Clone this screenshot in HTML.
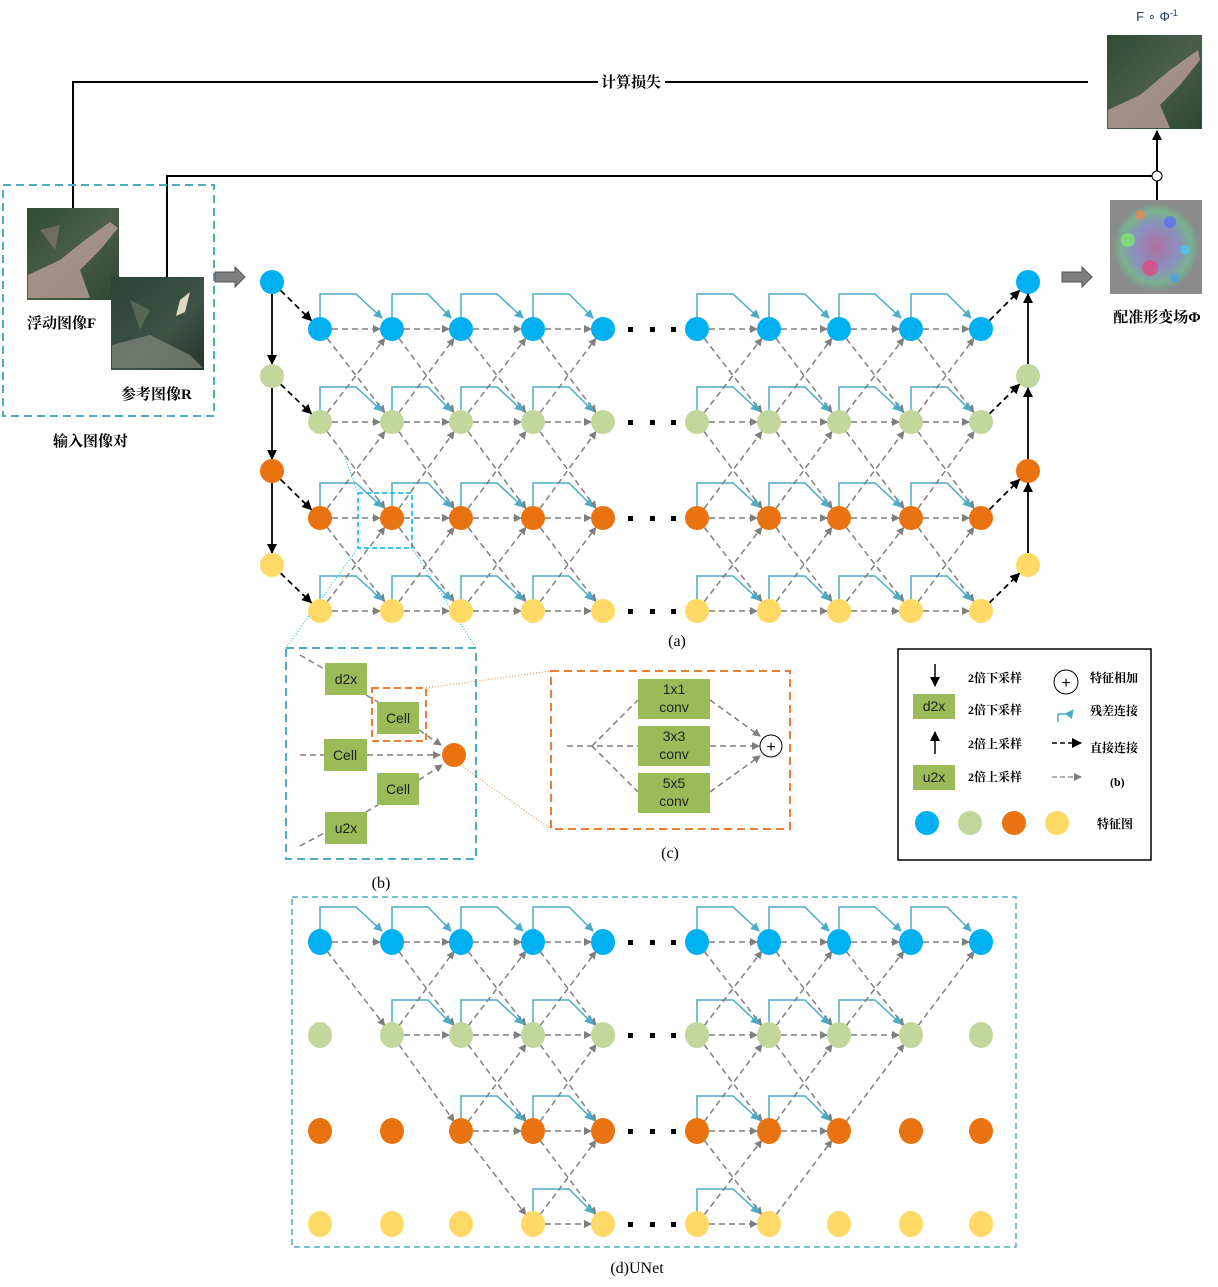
<!DOCTYPE html>
<html><head><meta charset="utf-8">
<style>
html,body{margin:0;padding:0;background:#fff;}
svg{display:block;}
.cn{font-family:"Liberation Serif","Noto Serif CJK SC",serif;font-weight:bold;fill:#000;}
.lt{font-family:"Liberation Sans",sans-serif;fill:#222;}
.sr{font-family:"Liberation Serif","Noto Serif CJK SC",serif;fill:#000;}
</style></head>
<body>
<svg id="s" width="1218" height="1287" viewBox="0 0 1218 1287" xmlns="http://www.w3.org/2000/svg">
<defs>
<marker id="ag" markerWidth="8" markerHeight="8" refX="7" refY="4" orient="auto" markerUnits="userSpaceOnUse"><path d="M0,0 L8,4 L0,8 z" fill="#7f7f7f"/></marker>
<marker id="ab" markerWidth="10" markerHeight="10" refX="9" refY="5" orient="auto" markerUnits="userSpaceOnUse"><path d="M0,0 L10,5 L0,10 z" fill="#000"/></marker>
<marker id="ac" markerWidth="9" markerHeight="9" refX="8" refY="4.5" orient="auto" markerUnits="userSpaceOnUse"><path d="M0,0 L9,4.5 L0,9 z" fill="#4bacc6"/></marker>
<linearGradient id="img1" x1="0" y1="0" x2="1" y2="1"><stop offset="0" stop-color="#2f4a35"/><stop offset="0.5" stop-color="#4a5e48"/><stop offset="1" stop-color="#2d4532"/></linearGradient>
<linearGradient id="img2" x1="0" y1="0" x2="1" y2="1"><stop offset="0" stop-color="#2c4236"/><stop offset="0.6" stop-color="#3e5246"/><stop offset="1" stop-color="#24352b"/></linearGradient>
<radialGradient id="img3"><stop offset="0" stop-color="#b070a0"/><stop offset="0.5" stop-color="#8a90c0"/><stop offset="0.8" stop-color="#7ab090"/><stop offset="1" stop-color="#8a8a8a"/></radialGradient>
</defs>

<polyline points="73,208 73,82 598,82" fill="none" stroke="#000" stroke-width="2"/>
<polyline points="665,82 1088,82" fill="none" stroke="#000" stroke-width="2"/>
<text x="631" y="87" class="cn" font-size="15" text-anchor="middle">计算损失</text>
<polyline points="167,277 167,176 1152,176" fill="none" stroke="#000" stroke-width="2"/>
<circle cx="1157" cy="176" r="5" fill="#fff" stroke="#000"/>
<line x1="1157" y1="200" x2="1157" y2="181" stroke="#000" stroke-width="2"/>
<line x1="1157" y1="171" x2="1157" y2="131" stroke="#000" stroke-width="2" marker-end="url(#ab)"/>

<rect x="3" y="185" width="211" height="231" fill="none" stroke="#4bacc6" stroke-width="2" stroke-dasharray="8,5"/>
<rect x="27" y="208" width="92" height="92" fill="url(#img1)"/>
<path d="M28,275 L60,260 L85,240 L110,222 L118,228 L100,250 L80,270 L90,298 L28,298 Z" fill="#b39a94" opacity="0.85"/>
<path d="M40,230 L60,225 L55,250 Z" fill="#8a8070" opacity="0.6"/>
<rect x="111" y="277" width="93" height="93" fill="url(#img2)"/>
<path d="M112,345 L150,335 L190,355 L203,368 L112,368 Z" fill="#7a8078" opacity="0.8"/>
<path d="M180,300 L190,292 L185,312 L176,316 Z" fill="#e0d8c0"/>
<path d="M130,300 L150,310 L140,330 Z" fill="#6a7a60" opacity="0.6"/>
<text x="27" y="328" class="cn" font-size="15">浮动图像F</text>
<text x="121" y="399" class="cn" font-size="15">参考图像R</text>
<text x="53" y="446" class="cn" font-size="15">输入图像对</text>

<path d="M215,272 L235,272 L235,267 L245,277 L235,287 L235,282 L215,282 Z" fill="#7f7f7f" stroke="#555"/>
<path d="M1062,272 L1082,272 L1082,267 L1092,277 L1082,287 L1082,282 L1062,282 Z" fill="#7f7f7f" stroke="#555"/>

<text x="1157" y="21" font-family="Liberation Sans,sans-serif" font-size="13" fill="#1f3864" text-anchor="middle">F ∘ Φ<tspan font-size="9" dy="-5">-1</tspan></text>
<rect x="1107" y="35" width="95" height="94" fill="url(#img1)"/>
<path d="M1108,110 L1140,95 L1170,70 L1198,50 L1200,60 L1180,85 L1160,105 L1170,128 L1108,128 Z" fill="#b39a94" opacity="0.85"/>
<rect x="1110" y="200" width="92" height="94" fill="#8c8c8c"/>
<ellipse cx="1156" cy="247" rx="44" ry="45" fill="url(#img3)"/>
<circle cx="1128" cy="240" r="7" fill="#7cf06a" opacity="0.7"/><circle cx="1170" cy="222" r="6" fill="#5a6cff" opacity="0.7"/><circle cx="1150" cy="268" r="8" fill="#ff3070" opacity="0.6"/><circle cx="1185" cy="250" r="5" fill="#40d0ff" opacity="0.6"/><circle cx="1140" cy="215" r="5" fill="#ff8040" opacity="0.6"/><circle cx="1175" cy="278" r="5" fill="#40a0ff" opacity="0.6"/>
<text x="1157" y="322" class="cn" font-size="15" text-anchor="middle">配准形变场Φ</text>

<rect x="358" y="493" width="54" height="55" fill="none" stroke="#00b0f0" stroke-width="1.5" stroke-dasharray="5,3"/>
<line x1="358" y1="548" x2="286" y2="648" stroke="#00b0f0" stroke-dasharray="1,2"/>
<line x1="412" y1="548" x2="476" y2="648" stroke="#00b0f0" stroke-dasharray="1,2"/>
<line x1="343" y1="453" x2="358" y2="493" stroke="#00b0f0" stroke-dasharray="1,2"/>
<text x="677" y="646" class="sr" font-size="16" text-anchor="middle">(a)</text>

<g id="grid"></g>

<rect x="286" y="648" width="190" height="211" fill="none" stroke="#4bacc6" stroke-width="2" stroke-dasharray="8,5"/>
<g stroke="#7f7f7f" stroke-width="1.5" stroke-dasharray="6,4" fill="none">
<line x1="300" y1="655" x2="326" y2="670"/>
<line x1="366" y1="695" x2="378" y2="702"/>
<line x1="419" y1="730" x2="441" y2="745" marker-end="url(#ag)"/>
<line x1="300" y1="755" x2="324" y2="755"/>
<line x1="367" y1="755" x2="440" y2="755" marker-end="url(#ag)"/>
<line x1="419" y1="780" x2="442" y2="765" marker-end="url(#ag)"/>
<line x1="366" y1="812" x2="378" y2="805"/>
<line x1="300" y1="846" x2="326" y2="832"/>
</g>
<g fill="#9bbb59">
<rect x="325" y="663" width="42" height="32"/>
<rect x="377" y="702" width="42" height="32"/>
<rect x="324" y="739" width="43" height="32"/>
<rect x="377" y="773" width="42" height="32"/>
<rect x="325" y="812" width="42" height="32"/>
</g>
<g class="lt" font-size="14" text-anchor="middle">
<text x="346" y="684">d2x</text><text x="398" y="723">Cell</text><text x="345" y="760">Cell</text><text x="398" y="794">Cell</text><text x="346" y="833">u2x</text>
</g>
<rect x="372" y="688" width="54" height="53" fill="none" stroke="#ed7d31" stroke-width="2" stroke-dasharray="7,4"/>
<circle cx="454" cy="755" r="12" fill="#e97311"/>
<line x1="426" y1="688" x2="551" y2="671" stroke="#ed7d31" stroke-dasharray="1,2"/>
<line x1="460" y1="765" x2="551" y2="829" stroke="#ed7d31" stroke-dasharray="1,2"/>
<text x="381" y="888" class="sr" font-size="16" text-anchor="middle">(b)</text>

<rect x="551" y="671" width="239" height="158" fill="none" stroke="#ed7d31" stroke-width="2" stroke-dasharray="8,5"/>
<g stroke="#7f7f7f" stroke-width="1.5" stroke-dasharray="6,4" fill="none">
<line x1="567" y1="746" x2="638" y2="746"/>
<line x1="592" y1="746" x2="638" y2="700"/>
<line x1="592" y1="746" x2="638" y2="792"/>
<line x1="710" y1="700" x2="760" y2="736" marker-end="url(#ag)"/>
<line x1="710" y1="746" x2="759" y2="746" marker-end="url(#ag)"/>
<line x1="710" y1="792" x2="760" y2="756" marker-end="url(#ag)"/>
</g>
<g fill="#9bbb59">
<rect x="638" y="679" width="72" height="40"/>
<rect x="638" y="726" width="72" height="40"/>
<rect x="638" y="773" width="72" height="40"/>
</g>
<g class="lt" font-size="14" text-anchor="middle">
<text x="674" y="694">1x1</text><text x="674" y="712">conv</text>
<text x="674" y="741">3x3</text><text x="674" y="759">conv</text>
<text x="674" y="788">5x5</text><text x="674" y="806">conv</text>
</g>
<circle cx="771" cy="746" r="11" fill="#fff" stroke="#000"/>
<text x="771" y="752" font-family="Liberation Sans,sans-serif" font-size="16" text-anchor="middle">+</text>
<text x="670" y="858" class="sr" font-size="16" text-anchor="middle">(c)</text>

<rect x="898" y="649" width="253" height="211" fill="none" stroke="#000" stroke-width="1.5"/>
<line x1="935" y1="664" x2="935" y2="686" stroke="#000" stroke-width="1.5" marker-end="url(#ab)"/>
<rect x="913" y="694" width="42" height="25" fill="#9bbb59"/>
<text x="934" y="711" class="lt" font-size="14" text-anchor="middle">d2x</text>
<line x1="935" y1="754" x2="935" y2="732" stroke="#000" stroke-width="1.5" marker-end="url(#ab)"/>
<rect x="913" y="765" width="42" height="25" fill="#9bbb59"/>
<text x="934" y="782" class="lt" font-size="14" text-anchor="middle">u2x</text>
<g class="cn" font-size="12">
<text x="968" y="682">2倍下采样</text><text x="968" y="714">2倍下采样</text>
<text x="968" y="748">2倍上采样</text><text x="968" y="781">2倍上采样</text>
<text x="1090" y="682">特征相加</text><text x="1090" y="715">残差连接</text>
<text x="1090" y="752">直接连接</text><text x="1110" y="786">(b)</text>
<text x="1097" y="828">特征图</text>
</g>
<circle cx="1066" cy="682" r="12" fill="#fff" stroke="#000"/>
<text x="1066" y="688" font-family="Liberation Sans,sans-serif" font-size="16" text-anchor="middle">+</text>
<polyline points="1058,722 1058,714 1070,714 1073,710" fill="none" stroke="#4bacc6" stroke-width="1.5" marker-end="url(#ac)"/>
<line x1="1052" y1="743" x2="1081" y2="743" stroke="#000" stroke-width="1.5" stroke-dasharray="5,3" marker-end="url(#ab)"/>
<line x1="1052" y1="777" x2="1081" y2="777" stroke="#999" stroke-width="1.5" stroke-dasharray="5,3" marker-end="url(#ag)"/>
<circle cx="927" cy="823" r="12" fill="#00b0f0"/><circle cx="970" cy="823" r="12" fill="#c3d69b"/>
<circle cx="1014" cy="823" r="12" fill="#e97311"/><circle cx="1057" cy="823" r="12" fill="#ffd966"/>

<rect x="292" y="897" width="724" height="350" fill="none" stroke="#4bacc6" stroke-width="1.5" stroke-dasharray="6,4"/>
<text x="637" y="1273" class="sr" font-size="16" text-anchor="middle">(d)UNet</text>
<g id="unet"></g>
</svg>
<script>
(function(){
var NS="http://www.w3.org/2000/svg";
function el(p,t,a){var e=document.createElementNS(NS,t);for(var k in a)e.setAttribute(k,a[k]);p.appendChild(e);return e;}
var cols=[320,392,461,533,603,697,769,839,911,981];
var cl=["#00b0f0","#c3d69b","#e97311","#ffd966"];
function sh(x1,y1,x2,y2,d){var dx=x2-x1,dy=y2-y1,L=Math.sqrt(dx*dx+dy*dy);return [x1+dx/L*d,y1+dy/L*d,x2-dx/L*d,y2-dy/L*d];}
function gl(g,x1,y1,x2,y2){var p=sh(x1,y1,x2,y2,12);el(g,"line",{x1:p[0],y1:p[1],x2:p[2],y2:p[3],stroke:"#7f7f7f","stroke-width":1.5,"stroke-dasharray":"6,4","marker-end":"url(#ag)"});}
function res(g,x1,x2,y){el(g,"polyline",{points:x1+","+(y-10)+" "+x1+","+(y-35)+" "+(x1+36)+","+(y-35)+" "+(x2-10)+","+(y-11),fill:"none",stroke:"#4bacc6","stroke-width":1.5,"marker-end":"url(#ac)"});}
function draw(g,rows,act,ry){
 for(var r=0;r<4;r++){
  for(var j=0;j<10;j++){
   if(!act(r,j))continue;
   if(j!=4&&j<9&&act(r,j+1)){gl(g,cols[j],rows[r],cols[j+1],rows[r]);res(g,cols[j],cols[j+1],rows[r]);}
   if(j!=4&&j<9&&r<3&&act(r+1,j+1))gl(g,cols[j],rows[r],cols[j+1],rows[r+1]);
   if(j!=4&&j<9&&r>0&&act(r-1,j+1))gl(g,cols[j],rows[r],cols[j+1],rows[r-1]);
  }
  [630,652,673].forEach(function(x){el(g,"rect",{x:x-2,y:rows[r]-2,width:5,height:5,fill:"#000"});});
 }
 for(var r=0;r<4;r++)for(var j=0;j<10;j++)el(g,"ellipse",{cx:cols[j],cy:rows[r],rx:12,ry:ry,fill:cl[r]});
}
var g=document.getElementById("grid");
var R=[329,422,518,611];
draw(g,R,function(){return true;},12);
var E=[282,376,471,565];
for(var r=0;r<4;r++){
 el(g,"circle",{cx:272,cy:E[r],r:12,fill:cl[r]});
 el(g,"circle",{cx:1028,cy:E[r],r:12,fill:cl[r]});
 var p=sh(272,E[r],cols[0],R[r],12);
 el(g,"line",{x1:p[0],y1:p[1],x2:p[2],y2:p[3],stroke:"#000","stroke-width":1.8,"stroke-dasharray":"6,4","marker-end":"url(#ab)"});
 p=sh(cols[9],R[r],1028,E[r],12);
 el(g,"line",{x1:p[0],y1:p[1],x2:p[2],y2:p[3],stroke:"#000","stroke-width":1.8,"stroke-dasharray":"6,4","marker-end":"url(#ab)"});
 if(r<3){
  el(g,"line",{x1:272,y1:E[r]+12,x2:272,y2:E[r+1]-12,stroke:"#000","stroke-width":1.8,"marker-end":"url(#ab)"});
  el(g,"line",{x1:1028,y1:E[r+1]-12,x2:1028,y2:E[r]+12,stroke:"#000","stroke-width":1.8,"marker-end":"url(#ab)"});
 }
}
var u=document.getElementById("unet");
draw(u,[942,1035,1131,1224],function(r,j){return j>=r&&j<=9-r;},13);
})();
</script>
</body></html>
